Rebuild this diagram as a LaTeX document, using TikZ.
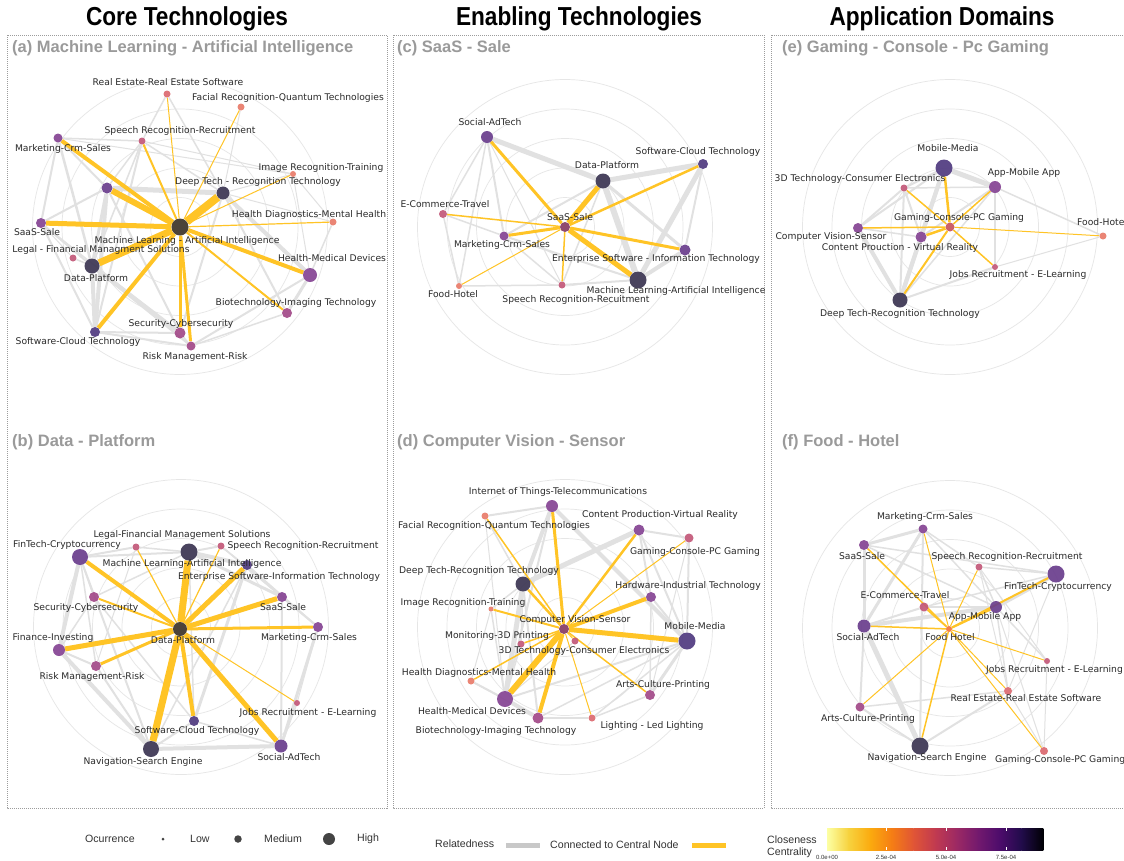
\documentclass[tikz,border=0pt]{standalone}
\usepackage{fontspec}
\setmainfont{Liberation Sans}
\newfontfamily\labelfont{DejaVu Sans}
\newfontfamily\headfont[FakeStretch=0.87]{Liberation Sans}

\pgfdeclarelayer{paper}
\pgfdeclarelayer{rings}
\pgfdeclarelayer{grayedges}
\pgfdeclarelayer{goldedges}
\pgfsetlayers{paper,rings,grayedges,goldedges,main}

% node palette (closeness centrality)
\definecolor{ccoral}{HTML}{E97B6A}
\definecolor{csalmon}{HTML}{DC6A70}
\definecolor{cpink}{HTML}{C35879}
\definecolor{cmagenta}{HTML}{A24988}
\definecolor{cpurple}{HTML}{854493}
\definecolor{cviolet}{HTML}{6A3D8D}
\definecolor{cindigo}{HTML}{503A80}
\definecolor{cdark}{HTML}{3B3552}
\definecolor{cbrown}{HTML}{3D3329}
\definecolor{cmaroon}{HTML}{873B63}
\definecolor{cred}{HTML}{C8535D}
\definecolor{corange}{HTML}{F37438}
% lines and text
\definecolor{edgegray}{HTML}{E1E1E1}
\definecolor{cgold}{HTML}{FFC426}
\definecolor{ringgray}{HTML}{E6E6E6}
\definecolor{labelgray}{HTML}{2A2A2A}
\definecolor{titlegray}{HTML}{9A9A9A}
\definecolor{boxgray}{HTML}{9C9C9C}
\definecolor{legendtext}{HTML}{333333}
\definecolor{legenddot}{HTML}{444444}
\definecolor{swatchgray}{HTML}{C8C8C8}
% colour bar stops
\definecolor{inf0}{HTML}{FCFFA4}
\definecolor{inf1}{HTML}{F7D23E}
\definecolor{inf2}{HTML}{FBAA0E}
\definecolor{inf3}{HTML}{F57D15}
\definecolor{inf4}{HTML}{E05536}
\definecolor{inf5}{HTML}{C13A50}
\definecolor{inf6}{HTML}{9C2964}
\definecolor{inf7}{HTML}{72196E}
\definecolor{inf8}{HTML}{4C0C6B}
\definecolor{inf9}{HTML}{210C4A}
\definecolor{inf10}{HTML}{000004}

\tikzset{
  vdot/.style={circle, inner sep=0pt, draw=none, fill opacity=0.92},
  lbl/.style={font=\labelfont\fontsize{9.2}{10}\selectfont, text=labelgray,
    inner sep=0pt, text height=6.7pt, text depth=1.7pt},
  gedge/.style={draw=edgegray, line width=#1},
  yedge/.style={draw=cgold, line width=#1},
  ring/.style={draw=ringgray, line width=0.7pt},
  panelbox/.style={draw=boxgray, line width=0.6pt, dash pattern=on 1pt off 1pt},
  paneltitle/.style={font=\fontsize{16.5}{18}\selectfont\bfseries, text=titlegray,
    anchor=west, inner sep=0pt},
  coltitle/.style={font=\headfont\bfseries\fontsize{26}{28}\selectfont, inner sep=0pt},
  legtext/.style={font=\fontsize{10.6}{11.6}\selectfont, text=legendtext,
    inner sep=0pt, anchor=west},
  ticktext/.style={font=\fontsize{6}{7}\selectfont, text=legendtext, inner sep=0pt},
}

\newcommand\vtx[5]{\node[vdot, minimum size=#4pt, fill=#5] (#1) at (#2,#3) {};}
\newcommand\vlabel[4]{\node[lbl] (#1) at (#2,#3) {#4};}
\newcommand\vlabelw[4]{\node[lbl, anchor=west] (#1) at (#2,#3) {#4};}

\begin{document}
\begin{tikzpicture}[x=1pt, y=-1pt]
\useasboundingbox (0,0) rectangle (1124,860);
\begin{pgfonlayer}{paper}
\fill[white] (0,0) rectangle (1124,860);
\end{pgfonlayer}

% ---------- column headings and frames ----------
\node[coltitle] (hcore) at (187,19) {Core Technologies};
\node[coltitle] (henab) at (579,19) {Enabling Technologies};
\node[coltitle] (happ)  at (942,19) {Application Domains};
\draw[panelbox] (7,35) rectangle (387,808);
\draw[panelbox] (393,35) rectangle (764,808);
\draw[panelbox] (771,35) rectangle (1130,808);

\node[paneltitle] (ta) at (12,48)  {(a) Machine Learning - Artificial Intelligence};
\node[paneltitle] (tb) at (12,442) {(b) Data - Platform};
\node[paneltitle] (tc) at (397,48) {(c) SaaS - Sale};
\node[paneltitle] (td) at (397,442) {(d) Computer Vision - Sensor};
\node[paneltitle] (te) at (782,48) {(e) Gaming - Console - Pc Gaming};
\node[paneltitle] (tf) at (782,442) {(f) Food - Hotel};

% ---------- polar grid rings ----------
\coordinate (ca) at (180,227);
\coordinate (cb) at (181,627);
\coordinate (cc) at (565,227);
\coordinate (cd) at (565,627);
\coordinate (ce) at (950,227);
\coordinate (cf) at (950,628);
\begin{pgfonlayer}{rings}
\foreach \c in {ca,cb,cc,cd,ce,cf}
  \foreach \r in {29.5,59,88.5,118,147.5}
    \draw[ring] (\c) circle[radius=\r pt];
\end{pgfonlayer}

% ================= (a) Machine Learning - Artificial Intelligence =================
\vtx{a0}{180}{227}{17}{cbrown}
\vtx{a1}{167}{94}{7}{csalmon}
\vtx{a2}{241}{107}{7}{ccoral}
\vtx{a3}{142}{141}{7}{cpink}
\vtx{a4}{58}{138}{9}{cpurple}
\vtx{a5}{293}{174}{6}{ccoral}
\vtx{a6}{223}{193}{13}{cdark}
\vtx{a7}{107}{188}{11}{cviolet}
\vtx{a8}{41}{223}{10}{cpurple}
\vtx{a9}{333}{222}{7}{ccoral}
\vtx{a10}{73}{258}{7}{cpink}
\vtx{a11}{92}{266}{15}{cdark}
\vtx{a12}{310}{275}{14}{cpurple}
\vtx{a13}{287}{313}{10}{cmagenta}
\vtx{a14}{180}{333}{11}{cmagenta}
\vtx{a15}{191}{346}{9}{cmagenta}
\vtx{a16}{95}{332}{10}{cindigo}

\vlabel{a1l}{168}{83}{Real Estate-Real Estate Software}
\vlabel{a2l}{288}{98}{Facial Recognition-Quantum Technologies}
\vlabel{a3l}{180}{131}{Speech Recognition-Recruitment}
\vlabel{a4l}{63}{149}{Marketing-Crm-Sales}
\vlabel{a5l}{321}{168}{Image Recognition-Training}
\vlabel{a6l}{258}{182}{Deep Tech - Recognition Technology}
\vlabel{a8l}{37}{233}{SaaS-Sale}
\vlabel{a9l}{309}{215}{Health Diagnostics-Mental Health}
\vlabel{a0l}{187}{241}{Machine Learning - Artificial Intelligence}
\vlabel{a10l}{101}{250}{Legal - Financial Managment Solutions}
\vlabel{a11l}{96}{279}{Data-Platform}
\vlabel{a12l}{332}{259}{Health-Medical Devices}
\vlabel{a13l}{296}{303}{Biotechnology-Imaging Technology}
\vlabel{a14l}{181}{324}{Security-Cybersecurity}
\vlabel{a16l}{78}{342}{Software-Cloud Technology}
\vlabel{a15l}{195}{357}{Risk Management-Risk}

% ================= (b) Data - Platform =================
\vtx{b0}{180}{629}{14}{cbrown}
\vtx{b1}{136}{547}{7}{cpink}
\vtx{b2}{80}{557}{16}{cviolet}
\vtx{b3}{189}{552}{17}{cdark}
\vtx{b4}{221}{546}{7}{cpink}
\vtx{b5}{247}{565}{10}{cindigo}
\vtx{b6}{94}{597}{10}{cmagenta}
\vtx{b7}{282}{597}{10}{cpurple}
\vtx{b8}{318}{627}{10}{cpurple}
\vtx{b9}{59}{650}{12}{cpurple}
\vtx{b10}{96}{666}{10}{cmagenta}
\vtx{b11}{297}{703}{6}{cpink}
\vtx{b12}{194}{721}{10}{cindigo}
\vtx{b13}{151}{749}{16}{cdark}
\vtx{b14}{281}{746}{13}{cviolet}

\vlabel{b1l}{182}{535}{Legal-Financial Management Solutions}
\vlabel{b2l}{67}{545}{FinTech-Cryptocurrency}
\vlabel{b3l}{192}{564}{Machine Learning-Artificial Intelligence}
\vlabel{b4l}{303}{546}{Speech Recognition-Recruitment}
\vlabel{b5l}{279}{577}{Enterprise Software-Information Technology}
\vlabel{b6l}{86}{608}{Security-Cybersecurity}
\vlabel{b7l}{283}{608}{SaaS-Sale}
\vlabel{b8l}{309}{638}{Marketing-Crm-Sales}
\vlabel{b9l}{53}{638}{Finance-Investing}
\vlabel{b0l}{183}{641}{Data-Platform}
\vlabel{b10l}{92}{677}{Risk Management-Risk}
\vlabel{b11l}{308}{713}{Jobs Recruitment - E-Learning}
\vlabel{b12l}{197}{731}{Software-Cloud Technology}
\vlabel{b13l}{143}{762}{Navigation-Search Engine}
\vlabel{b14l}{289}{758}{Social-AdTech}

% ================= (c) SaaS - Sale =================
\vtx{c0}{565}{227}{10}{cmaroon}
\vtx{c1}{487}{137}{12}{cviolet}
\vtx{c2}{703}{164}{10}{cindigo}
\vtx{c3}{603}{181}{15}{cdark}
\vtx{c4}{443}{214}{8}{cpink}
\vtx{c5}{504}{236}{9}{cpurple}
\vtx{c6}{685}{250}{11}{cviolet}
\vtx{c7}{638}{280}{17}{cdark}
\vtx{c8}{459}{286}{6}{ccoral}
\vtx{c9}{562}{285}{7}{cpink}

\vlabel{c1l}{490}{123}{Social-AdTech}
\vlabel{c2l}{698}{152}{Software-Cloud Technology}
\vlabel{c3l}{607}{166}{Data-Platform}
\vlabel{c4l}{445}{205}{E-Commerce-Travel}
\vlabel{c0l}{570}{218}{SaaS-Sale}
\vlabel{c5l}{502}{245}{Marketing-Crm-Sales}
\vlabel{c6l}{656}{259}{Enterprise Software - Information Technology}
\vlabel{c7l}{676}{291}{Machine Learning-Artificial Intelligence}
\vlabel{c8l}{453}{295}{Food-Hotel}
\vlabel{c9l}{576}{300}{Speech Recognition-Recuitment}

% ================= (d) Computer Vision - Sensor =================
\vtx{d0}{564}{629}{10}{cmaroon}
\vtx{d1}{552}{506}{12}{cpurple}
\vtx{d2}{485}{516}{7}{ccoral}
\vtx{d3}{639}{530}{11}{cpurple}
\vtx{d4}{689}{538}{9}{cpink}
\vtx{d5}{523}{584}{15}{cdark}
\vtx{d6}{651}{597}{10}{cpurple}
\vtx{d7}{491}{609}{5}{ccoral}
\vtx{d8}{687}{641}{17}{cindigo}
\vtx{d9}{521}{644}{7}{cpink}
\vtx{d10}{575}{641}{7}{cpink}
\vtx{d11}{471}{681}{7}{ccoral}
\vtx{d12}{650}{695}{10}{cmagenta}
\vtx{d13}{505}{699}{16}{cpurple}
\vtx{d14}{538}{718}{11}{cmagenta}
\vtx{d15}{592}{718}{7}{csalmon}

\vlabel{d1l}{558}{492}{Internet of Things-Telecommunications}
\vlabel{d3l}{660}{515}{Content Production-Virtual Reality}
\vlabel{d2l}{494}{526}{Facial Recognition-Quantum Technologies}
\vlabel{d4l}{695}{552}{Gaming-Console-PC Gaming}
\vlabel{d5l}{479}{571}{Deep Tech-Recognition Technology}
\vlabel{d6l}{688}{586}{Hardware-Industrial Technology}
\vlabel{d7l}{463}{603}{Image Recognition-Training}
\vlabel{d0l}{575}{620}{Computer Vision-Sensor}
\vlabel{d8l}{695}{627}{Mobile-Media}
\vlabel{d9l}{497}{636}{Monitoring-3D Printing}
\vlabel{d10l}{584}{651}{3D Technology-Consumer Electronics}
\vlabel{d11l}{479}{673}{Health Diagnostics-Mental Health}
\vlabel{d12l}{663}{685}{Arts-Culture-Printing}
\vlabel{d13l}{472}{712}{Health-Medical Devices}
\vlabel{d15l}{652}{726}{Lighting - Led Lighting}
\vlabel{d14l}{496}{731}{Biotechnology-Imaging Technology}

% ================= (e) Gaming - Console - Pc Gaming =================
\vtx{e0}{950}{227}{9}{cred}
\vtx{e1}{944}{168}{17}{cindigo}
\vtx{e2}{995}{187}{12}{cpurple}
\vtx{e3}{904}{188}{7}{cpink}
\vtx{e4}{1103}{236}{7}{ccoral}
\vtx{e5}{858}{228}{10}{cpurple}
\vtx{e6}{921}{237}{11}{cpurple}
\vtx{e7}{995}{267}{6}{cpink}
\vtx{e8}{900}{300}{15}{cdark}

\vlabel{e1l}{948}{149}{Mobile-Media}
\vlabel{e2l}{1024}{173}{App-Mobile App}
\vlabel{e3l}{860}{179}{3D Technology-Consumer Electronics}
\vlabel{e0l}{959}{218}{Gaming-Console-PC Gaming}
\vlabelw{e4l}{1077}{223}{Food-Hotel}
\vlabel{e5l}{831}{237}{Computer Vision-Sensor}
\vlabel{e6l}{900}{248}{Content Prouction - Virtual Reality}
\vlabel{e7l}{1018}{275}{Jobs Recruitment - E-Learning}
\vlabel{e8l}{900}{314}{Deep Tech-Recognition Technology}

% ================= (f) Food - Hotel =================
\vtx{f0}{949}{629}{6}{corange}
\vtx{f1}{923}{529}{9}{cpurple}
\vtx{f2}{864}{545}{10}{cpurple}
\vtx{f3}{979}{567}{7}{cpink}
\vtx{f4}{1056}{574}{17}{cviolet}
\vtx{f5}{924}{607}{9}{cpink}
\vtx{f6}{996}{607}{12}{cviolet}
\vtx{f7}{864}{626}{13}{cviolet}
\vtx{f8}{1047}{661}{6}{cpink}
\vtx{f9}{1008}{691}{8}{csalmon}
\vtx{f10}{860}{707}{9}{cmagenta}
\vtx{f11}{920}{746}{17}{cdark}
\vtx{f12}{1044}{751}{8}{csalmon}

\vlabel{f1l}{925}{517}{Marketing-Crm-Sales}
\vlabel{f2l}{862}{557}{SaaS-Sale}
\vlabel{f3l}{1007}{557}{Speech Recognition-Recruitment}
\vlabel{f4l}{1058}{587}{FinTech-Cryptocurrency}
\vlabel{f5l}{905}{596}{E-Commerce-Travel}
\vlabel{f6l}{985}{617}{App-Mobile App}
\vlabel{f7l}{868}{638}{Social-AdTech}
\vlabel{f0l}{950}{638}{Food Hotel}
\vlabelw{f8l}{986}{670}{Jobs Recruitment - E-Learning}
\vlabel{f9l}{1026}{699}{Real Estate-Real Estate Software}
\vlabel{f10l}{868}{719}{Arts-Culture-Printing}
\vlabel{f11l}{927}{758}{Navigation-Search Engine}
\vlabelw{f12l}{995}{760}{Gaming-Console-PC Gaming}

% ---------- relatedness links among neighbours ----------
\begin{pgfonlayer}{grayedges}
\foreach \s/\t/\w in {a4/a7/2, a4/a8/2, a4/a3/1.5, a4/a11/2.5, a4/a5/1, a7/a6/5,
  a7/a8/2, a7/a11/3, a7/a16/4, a7/a3/1.5, a7/a14/2, a3/a1/1.5, a3/a16/2, a3/a11/1.5,
  a3/a5/1, a3/a6/1.5, a8/a11/2, a8/a16/2, a8/a14/1.5, a8/a10/1, a11/a16/4, a11/a14/4,
  a11/a15/2, a11/a10/1.5, a6/a12/4, a6/a5/1, a6/a13/2, a6/a2/1, a6/a1/1.5, a6/a9/1,
  a6/a14/2, a9/a12/1.5, a5/a12/1, a5/a9/1, a12/a13/3, a12/a15/2, a13/a15/1.5,
  a14/a16/2, a15/a16/2, a14/a15/1.5}
  \draw[gedge=\w] (\s) -- (\t);
\foreach \s/\t/\w in {b2/b1/2, b2/b3/2, b2/b9/4, b2/b6/1.5, b2/b10/1.5, b2/b13/2,
  b3/b5/4, b3/b4/2, b3/b7/3, b3/b6/1.5, b3/b1/1.5, b5/b7/2, b5/b8/1.5, b5/b12/3,
  b5/b13/1.5, b7/b8/2, b7/b14/2, b8/b14/3, b8/b11/1, b9/b10/2, b9/b13/4, b9/b6/1.5,
  b10/b13/2, b6/b12/1.5, b13/b14/4, b13/b12/2, b12/b14/1.5, b11/b14/1.5, b4/b8/1.5,
  b4/b7/1.5, b1/b10/1, b12/b3/1.5}
  \draw[gedge=\w] (\s) -- (\t);
\foreach \s/\t/\w in {c1/c3/5, c1/c5/2, c1/c4/1.5, c1/c8/1.5, c1/c9/1, c3/c2/5,
  c3/c7/6, c3/c6/3, c3/c5/2, c3/c9/1.5, c2/c7/5, c2/c6/2, c7/c6/4, c7/c9/2, c7/c5/2,
  c4/c8/1.5, c4/c5/1.5, c8/c9/1.5, c5/c9/1.5}
  \draw[gedge=\w] (\s) -- (\t);
\foreach \s/\t/\w in {d1/d2/2, d1/d8/4, d1/d5/4, d1/d13/2, d2/d5/1.5, d2/d13/1,
  d3/d4/2, d3/d5/5, d3/d6/2, d3/d8/2, d4/d8/2, d4/d12/1, d5/d13/5, d5/d14/2, d5/d7/1.5,
  d5/d9/1.5, d6/d8/2, d6/d12/1.5, d8/d12/3, d8/d13/2, d8/d14/1.5, d8/d15/1.5,
  d7/d13/1.5, d11/d13/2, d13/d14/4, d14/d15/1.5, d15/d12/1.5, d7/d11/1, d11/d14/1,
  d9/d13/1.5, d10/d13/1}
  \draw[gedge=\w] (\s) -- (\t);
\foreach \s/\t/\w in {e1/e2/5, e1/e6/4, e1/e3/2, e1/e8/4, e1/e5/2, e2/e6/2, e2/e4/1.5,
  e2/e3/1.5, e2/e7/1.5, e3/e5/2, e3/e6/2, e3/e8/2, e5/e8/4, e5/e6/1.5, e6/e8/4,
  e8/e7/2, e7/e4/1, e8/e2/1.5}
  \draw[gedge=\w] (\s) -- (\t);
\foreach \s/\t/\w in {f1/f2/3, f1/f7/3, f1/f3/1.5, f1/f6/1.5, f1/f11/2, f2/f7/3,
  f2/f4/1.5, f2/f6/1.5, f3/f4/1.5, f3/f8/1, f3/f9/1, f3/f6/1.5, f4/f6/4, f4/f5/1.5,
  f5/f7/2, f5/f6/2, f6/f7/4, f6/f9/1.5, f6/f8/1.5, f6/f12/1, f7/f10/2, f7/f11/5,
  f10/f11/2, f10/f9/1.5, f11/f9/2, f8/f12/1, f9/f12/1, f4/f9/1}
  \draw[gedge=\w] (\s) -- (\t);
\end{pgfonlayer}

% ---------- links to the central node ----------
\begin{pgfonlayer}{goldedges}
\foreach \t/\w in {a1/1, a2/1, a3/2, a4/4, a7/6, a8/5, a6/8, a5/1, a9/1.2, a11/7,
  a12/4, a13/2, a14/3, a15/3, a16/4}
  \draw[yedge=\w] (a0) -- (\t);
\foreach \t/\w in {b1/1.2, b2/4, b3/7, b4/1.2, b5/5, b6/2, b7/5, b8/3, b9/5, b10/3,
  b11/1, b12/4, b13/7, b14/5}
  \draw[yedge=\w] (b0) -- (\t);
\foreach \t/\w in {c1/3, c2/2.5, c3/5, c4/1.5, c5/3, c6/3, c7/5, c8/1, c9/1.5}
  \draw[yedge=\w] (c0) -- (\t);
\foreach \t/\w in {d1/3, d2/1.5, d3/2.5, d4/1, d5/2.5, d6/4, d7/2, d8/5, d9/1.5,
  d10/1, d11/1.5, d12/1.5, d13/6, d14/4, d15/1}
  \draw[yedge=\w] (d0) -- (\t);
\foreach \t/\w in {e1/2.5, e2/1.5, e3/1.5, e4/1, e5/1.5, e6/2.5, e7/1.5, e8/2}
  \draw[yedge=\w] (e0) -- (\t);
\foreach \t/\w in {f1/1, f2/1.5, f3/1, f4/2, f5/1.5, f6/2, f7/1.5, f8/1, f9/1,
  f10/1, f11/1.5, f12/1}
  \draw[yedge=\w] (f0) -- (\t);
\end{pgfonlayer}

% ---------- legend: occurrence ----------
\node[legtext] (occ) at (85,839) {Ocurrence};
\node[circle, inner sep=0pt, fill=legenddot, minimum size=3pt] (occlo) at (163,839) {};
\node[legtext] (occlot) at (190,839) {Low};
\node[circle, inner sep=0pt, fill=legenddot, minimum size=7.5pt] (occmd) at (238,839) {};
\node[legtext] (occmdt) at (264,839) {Medium};
\node[circle, inner sep=0pt, fill=legenddot, minimum size=12pt] (occhi) at (329,839) {};
\node[legtext] (occhit) at (357,839) {High};

% ---------- legend: relatedness ----------
\node[legtext] (rel) at (435,844) {Relatedness};
\coordinate (relg1) at (506,845);
\coordinate (relg2) at (540,845);
\draw[draw=swatchgray, line width=5pt] (relg1) -- (relg2);
\node[legtext] (relc) at (550,845) {Connected to Central Node};
\coordinate (rely1) at (692,845);
\coordinate (rely2) at (726,845);
\draw[draw=cgold, line width=5pt] (rely1) -- (rely2);

% ---------- legend: closeness centrality ----------
\node[legtext, align=left] (clo) at (767,847) {Closeness\\Centrality};
\foreach \i [evaluate=\i as \j using int(\i+1)] in {0,...,9}
  \shade[left color=inf\i, right color=inf\j]
    (827+21.6*\i,828) rectangle (827+21.6*\i+21.9,850);
\foreach \x in {886,946,1006} {
  \draw[white, line width=0.6pt] (\x,828) -- (\x,831);
  \draw[white, line width=0.6pt] (\x,847) -- (\x,850);
}
\node[ticktext] (tk0) at (827,857) {0.0e+00};
\node[ticktext] (tk1) at (886,857) {2.5e-04};
\node[ticktext] (tk2) at (946,857) {5.0e-04};
\node[ticktext] (tk3) at (1006,857) {7.5e-04};
\end{tikzpicture}
\end{document}
